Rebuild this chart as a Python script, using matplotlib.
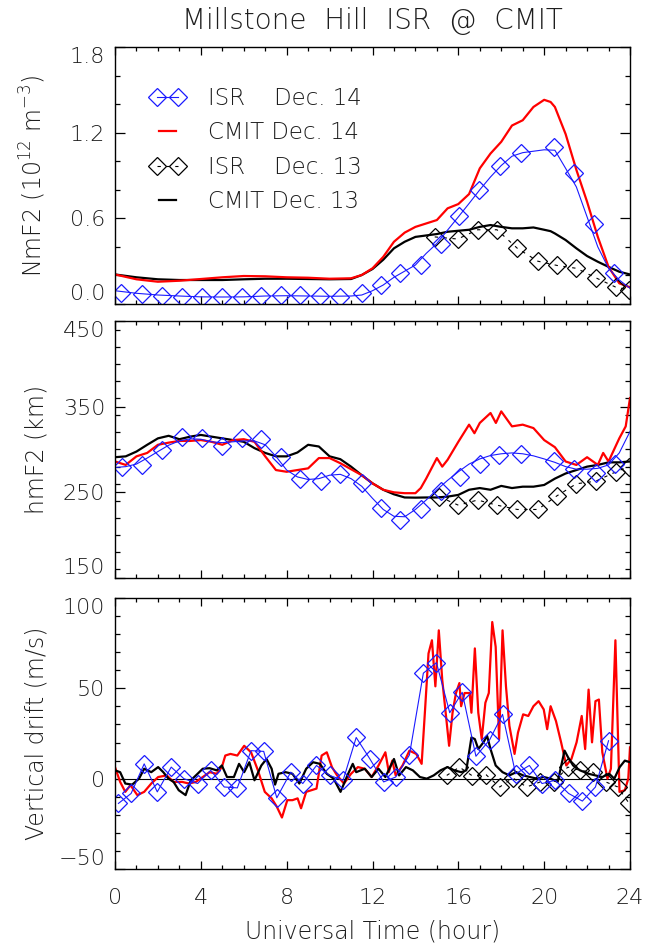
import matplotlib
matplotlib.use("Agg")
import matplotlib.pyplot as plt
from matplotlib.lines import Line2D
from matplotlib.legend_handler import HandlerBase
from matplotlib.ticker import FixedLocator, MultipleLocator, FuncFormatter

TXT = '#1e1e1e'
plt.rcParams['font.family'] = ['DejaVu Sans']
plt.rcParams['font.weight'] = 'light'
plt.rcParams['axes.labelweight'] = 'light'
plt.rcParams['text.color'] = TXT
plt.rcParams['axes.labelcolor'] = TXT
plt.rcParams['mathtext.default'] = 'regular'

# ---------------- NmF2 (10^12 m^-3) ----------------
nm_isr14_t = [0.27, 1.24, 2.17, 3.10, 4.04, 4.98, 5.91, 6.82, 7.74, 8.64, 9.55, 10.5,
              11.5, 12.4, 13.3, 14.25, 15.17, 16.05, 16.98, 17.94, 18.9, 20.46, 21.4,
              22.3, 23.24]
nm_isr14_v = [0.08, 0.068, 0.058, 0.05, 0.047, 0.049, 0.05, 0.056, 0.063, 0.06, 0.056, 0.05,
              0.075, 0.133, 0.215, 0.273, 0.42, 0.616, 0.80, 0.965, 1.06, 1.10, 0.92,
              0.557, 0.215]
nm_isrfit14_t = [0, 1, 2, 3, 4, 5, 6, 7, 8, 9, 10, 11, 11.5, 12, 12.5, 13, 13.5, 14, 14.5,
                 15, 15.5, 16, 16.5, 17, 17.5, 18, 18.5, 19, 19.5, 20, 20.5, 21, 21.5,
                 22, 22.5, 23, 23.5, 24]
nm_isrfit14_v = [0.093, 0.075, 0.063, 0.056, 0.05, 0.049, 0.05, 0.056, 0.058, 0.056, 0.054,
                 0.056, 0.063, 0.093, 0.133, 0.187, 0.23, 0.273, 0.354, 0.424, 0.518, 0.61,
                 0.704, 0.80, 0.89, 0.97, 1.035, 1.06, 1.07, 1.08, 1.077, 0.95, 0.82, 0.61,
                 0.40, 0.25, 0.168, 0.11]
nm_cmit_t = [0, 1, 2, 3, 4, 5, 6, 7, 8, 9, 10, 11, 11.5, 12, 12.5, 13, 13.5, 14, 14.5, 15,
             15.5, 16, 16.5, 17, 17.5, 18, 18.5, 19, 19.5, 20, 20.3, 20.5, 21, 21.5, 22,
             22.5, 23, 23.5, 24]
nm_cmit14_v = [0.207, 0.173, 0.156, 0.163, 0.175, 0.187, 0.196, 0.194, 0.187, 0.184, 0.177,
               0.18, 0.203, 0.25, 0.33, 0.436, 0.50, 0.54, 0.564, 0.588, 0.67, 0.70, 0.77,
               0.95, 1.054, 1.136, 1.25, 1.287, 1.38, 1.43, 1.415, 1.38, 1.19, 0.94, 0.716,
               0.47, 0.26, 0.145, 0.117]
nm_cmit13_v = [0.207, 0.187, 0.173, 0.168, 0.168, 0.168, 0.173, 0.177, 0.177, 0.175, 0.173,
               0.175, 0.203, 0.245, 0.31, 0.39, 0.436, 0.47, 0.48, 0.49, 0.506, 0.513, 0.52,
               0.54, 0.553, 0.54, 0.53, 0.53, 0.536, 0.52, 0.51, 0.494, 0.448, 0.39, 0.336,
               0.296, 0.26, 0.226, 0.207]
nm_isr13_t = [14.9, 15.97, 16.9, 17.8, 18.75, 19.7, 20.6, 21.5, 22.4, 23.35, 23.95]
nm_isr13_v = [0.47, 0.455, 0.52, 0.52, 0.39, 0.30, 0.27, 0.25, 0.184, 0.117, 0.10]

# ---------------- hmF2 (km) ----------------
hm_isr14_t = [0.32, 1.24, 2.17, 3.10, 4.04, 4.98, 5.91, 6.82, 7.74, 8.64, 9.58, 10.5, 11.5,
              12.4, 13.3, 14.25, 15.17, 16.1, 17.0, 17.9, 18.9, 20.46, 21.4, 22.4, 23.3]
hm_isr14_v = [279, 282, 299, 314.5, 313, 304, 313, 312, 291, 266, 263, 271, 260.5,
              232, 218, 230, 251, 268, 283, 293, 295, 287, 277, 272, 283]
hm_fit_t = [0, 0.5, 1, 1.5, 2, 2.5, 3, 3.5, 4, 4.5, 5, 5.5, 6, 6.5, 7, 7.5, 8, 8.5, 9, 9.5,
            10, 10.5, 11, 11.5, 12, 12.5, 13, 13.5, 14, 14.5, 15, 15.5, 16, 16.5, 17, 17.5,
            18, 18.5, 19, 19.5, 20, 20.5, 21, 21.5, 22, 22.5, 23, 23.5, 24]
hm_isrfit14_v = [279, 280, 283, 290, 297.6, 305, 310, 312.5, 312, 309, 308, 309, 310, 310,
                 305.5, 292, 276, 268, 265, 266, 270, 271, 266, 257, 243, 230, 222, 221.5,
                 230, 241, 253, 264, 274, 283, 289, 293, 295, 296, 295, 292.6, 289, 285,
                 280, 277, 277, 278, 282, 296, 321]
hm_cmit14_t = [0, 0.5, 1, 1.5, 2, 2.5, 3, 3.5, 4, 4.5, 5, 5.5, 6, 6.5, 7, 7.5, 8, 8.5, 9,
               9.5, 10, 10.5, 11, 11.5, 12, 12.5, 13, 13.5, 14, 14.25, 14.5, 15, 15.25,
               15.5, 16, 16.5, 16.75, 17, 17.5, 17.75, 18, 18.5, 19, 19.5, 20, 20.5, 21,
               21.5, 22, 22.5, 22.75, 23, 23.5, 23.8, 24]
hm_cmit14_v = [286, 282, 292, 296, 305.5, 308, 310, 310, 311, 309, 305.5, 311, 312, 309,
               292, 276, 274, 276, 278, 290, 290, 284, 277, 270, 260.5, 253, 250, 249, 249,
               255, 266, 290, 280, 288, 309, 329, 319, 331, 342.6, 331, 344.5, 327, 329,
               325, 311, 302.7, 286, 282, 291, 282, 296, 286, 313, 327, 360]
hm_cmit13_v = [291, 292, 297.6, 305.5, 313, 316, 312, 315, 317, 315, 313, 311, 309, 301.6,
               296, 292, 292, 296.5, 305.5, 303.5, 292, 288.7, 280, 270, 260.5, 253, 247.7,
               244, 243.8, 244, 244, 245, 247, 253, 255, 253, 257.5, 255, 256.6, 256.6,
               258.6, 266, 272, 276, 280, 282, 285, 285, 286]
hm_isr13_t = [15.1, 16.0, 16.9, 17.8, 18.75, 19.7, 20.6, 21.5, 22.4, 23.35, 23.95]
hm_isr13_v = [245, 235, 241, 235, 230, 230, 246, 260, 263, 274, 280]

# ---------------- Vertical drift (m/s) ----------------
vd_isr14_t = [0.16, 0.75, 1.36, 1.97, 2.62, 3.21, 3.85, 4.46, 5.09, 5.70, 6.34, 6.93, 7.54,
              8.19, 8.75, 9.39, 10.0, 10.63, 11.24, 11.88, 12.52, 13.08, 13.72, 14.37,
              14.98, 15.60, 16.18, 16.82, 17.46, 18.06, 18.67, 19.31, 19.90, 20.51, 21.14,
              21.78, 22.39, 23.0]
vd_isr14_v = [-13.7, -8.2, 8.2, -7.3, 6.4, 0.0, -2.7, 4.6, -4.6, -5.1, 15.5, 15.1, -10.6,
              3.6, -2.7, 7.3, 1.8, -0.9, 22.8, 10.9, -1.8, 0.9, 13.1, 58.4, 64.2, 36.5,
              47.8, 12.4, 21.5, 35.6, 2.7, 7.3, -2.7, -0.9, -8.2, -12.4, -4.6, 21.0]
vd_isr13_t = [15.46, 16.05, 16.66, 17.29, 17.93, 18.54, 19.18, 19.82, 20.45, 21.1, 21.67,
              22.26, 22.87, 23.43, 23.96]
vd_isr13_v = [1.8, 6.4, 1.5, 2.2, -4.6, 0.4, -4.6, -1.8, -2.0, 6.4, 4.6, 3.6, -1.8, -4.6,
              -13.7]
vd_cmit14_t = [0.00, 0.24, 0.48, 0.72, 1.04, 1.36, 1.69, 2.01, 2.41, 2.73, 3.13, 3.45, 3.77,
               4.09, 4.41, 4.74, 4.98, 5.14, 5.38, 5.70, 6.02, 6.34, 6.66, 6.98, 7.30, 7.54,
               7.78, 8.03, 8.27, 8.51, 8.67, 8.91, 9.15, 9.39, 9.63, 9.87, 10.11, 10.35,
               10.67, 11.00, 11.32, 11.64, 11.96, 12.28, 12.60, 12.76, 12.92, 13.08, 13.40,
               13.72, 14.04, 14.29, 14.45, 14.61, 14.77, 14.93, 15.09, 15.25, 15.41, 15.57,
               15.73, 15.89, 16.05, 16.13, 16.29, 16.53, 16.61, 16.77, 16.93, 17.09, 17.26,
               17.42, 17.58, 17.74, 17.90, 18.06, 18.22, 18.38, 18.62, 18.78, 19.02, 19.26,
               19.50, 19.74, 19.98, 20.14, 20.30, 20.55, 20.79, 21.03, 21.27, 21.51, 21.75,
               21.91, 22.07, 22.23, 22.39, 22.55, 22.71, 22.95, 23.11, 23.32, 23.51, 23.76,
               23.92, 24.00]
vd_cmit14_v = [6.4, -1.8, -7.3, -3.6, -9.1, -7.3, -2.7, 0.9, 1.8, -1.8, -1.8, -2.7, -1.8,
               0.9, 3.6, 2.7, 6.4, 12.8, 13.7, 12.8, 18.2, 14.6, 4.6, -7.3, -10.9, -15.5,
               -21.5, -11.9, -11.9, -10.9, -16.4, -7.3, -6.4, -5.5, 12.8, 14.6, 6.4, 1.8,
               -2.7, 2.7, 6.4, 5.5, 0.9, 7.3, 14.6, 3.6, 10.0, 1.8, 7.3, 15.5, 13.7, 8.2,
               38.3, 69.3, 76.6, 51.1, 82.1, 54.7, 36.5, 18.2, 36.5, 47.4, 52.9, 40.1, 47.4,
               47.4, 36.5, 72.1, 36.5, 21.9, 42.0, 47.4, 86.7, 73.0, 21.9, 82.1, 51.1, 29.2,
               13.7, 25.5, 35.6, 34.7, 40.1, 42.9, 38.3, 27.4, 40.1, 31.9, 20.1, 7.3, 10.9,
               20.1, 34.7, 16.4, 49.3, 20.1, 42.9, 43.8, 14.6, 0.0, 5.5, 76.6, -7.3, -6.4,
               0.0, 17.3]
vd_cmit13_t = [0.00, 0.24, 0.48, 0.80, 1.12, 1.36, 1.69, 2.01, 2.25, 2.49, 2.73, 2.97, 3.29,
               3.53, 3.77, 4.09, 4.41, 4.74, 4.98, 5.22, 5.54, 5.78, 6.02, 6.26, 6.50, 6.82,
               7.06, 7.30, 7.46, 7.62, 7.95, 8.27, 8.59, 8.91, 9.23, 9.55, 9.87, 10.19,
               10.51, 10.83, 11.08, 11.24, 11.64, 11.96, 12.28, 12.60, 13.00, 13.24, 13.56,
               13.88, 14.21, 14.53, 14.85, 15.17, 15.49, 15.81, 16.13, 16.37, 16.61, 16.77,
               16.93, 17.17, 17.34, 17.50, 17.74, 18.06, 18.38, 18.70, 19.02, 19.34, 19.66,
               19.98, 20.30, 20.63, 20.95, 21.11, 21.35, 21.67, 22.07, 22.39, 22.71, 23.03,
               23.27, 23.52, 23.76, 24.00]
vd_cmit13_v = [4.6, 3.6, -2.7, -3.3, 0.0, 5.5, 3.6, 6.4, 3.6, 0.0, -1.8, -6.4, -9.1, -0.9,
               1.8, 5.5, 5.8, 4.6, 7.3, 0.9, 0.9, 8.2, 3.6, 9.1, -0.9, 7.3, 10.9, 5.5, -3.3,
               2.7, 3.6, 2.7, -2.7, 5.5, 9.1, 8.2, 2.7, 0.0, -7.3, 1.8, 8.2, 3.6, 5.5, 0.9,
               5.5, 0.9, 10.9, 1.8, 6.4, 4.6, 0.9, 0.0, 1.8, 4.6, 6.4, 4.6, 3.6, 4.6, 22.8,
               21.9, 16.4, 20.1, 23.7, 16.4, 7.3, 3.6, 1.8, 3.6, 1.8, 0.9, 0.0, 0.9, 0.0,
               -1.8, 15.5, 11.9, 7.3, 4.6, 2.7, 1.8, 0.9, 2.7, 0.0, 6.4, 10.0, 9.1]

# Axis labels and tick values
title = "Millstone  Hill  ISR  @  CMIT"
xlabel = "Universal Time (hour)"
ylabels = ["NmF2 (10$^{12}$ m$^{-3}$)", "hmF2 (km)", "Vertical drift (m/s)"]
legend_labels = ["ISR    Dec. 14", "CMIT Dec. 14", "ISR    Dec. 13", "CMIT Dec. 13"]
x_ticks = [0, 4, 8, 12, 16, 20, 24]
nm_ticks = [0.0, 0.6, 1.2, 1.8]
hm_ticks = [150, 250, 350, 450]
vd_ticks = [-50, 0, 50, 100]

BLUE = '#1a1aff'
RED = '#ff0000'
FS_TICK = 16
FS_LAB = 17
FS_LEG = 16.5
FS_TITLE = 20
PX = 0.72  # points per pixel at 100 dpi

fig = plt.figure(figsize=(6.45, 9.46), dpi=100)
W, H = 645.0, 946.0
L, AW = 115 / W, 515 / W
ax1 = fig.add_axes([L, 1 - 304 / H, AW, 257 / H])
ax2 = fig.add_axes([L, 1 - 578 / H, AW, 257 / H])
ax3 = fig.add_axes([L, 1 - 869 / H, AW, 271 / H])


def style(ax, ticks, minor, fmt, show_x):
    ax.set_xlim(0, 24)
    ax.set_ylim(ticks[0], ticks[-1])
    ax.xaxis.set_major_locator(FixedLocator(x_ticks))
    ax.xaxis.set_minor_locator(MultipleLocator(1))
    ax.yaxis.set_major_locator(FixedLocator(ticks))
    ax.yaxis.set_minor_locator(MultipleLocator(minor))
    ax.yaxis.set_major_formatter(FuncFormatter(fmt))
    ax.tick_params(which='both', direction='in', top=True, right=True,
                   labelsize=FS_TICK, color='black', labelcolor=TXT)
    ax.tick_params(axis='x', which='major', length=8 * PX, width=0.9, pad=14)
    ax.tick_params(axis='x', which='minor', length=4 * PX, width=0.9)
    ax.tick_params(axis='y', which='major', length=10 * PX, width=0.9, pad=7)
    ax.tick_params(axis='y', which='minor', length=5 * PX, width=0.9)
    ax.tick_params(labelbottom=show_x)
    for s in ax.spines.values():
        s.set_linewidth(1.0)
    majors = ax.yaxis.get_major_ticks()
    majors[0].label1.set_verticalalignment('bottom')
    majors[-1].label1.set_verticalalignment('top')


style(ax1, nm_ticks, 0.2, lambda v, p: f"{v:.1f}", False)
style(ax2, hm_ticks, 20, lambda v, p: f"{v:.0f}", False)
style(ax3, vd_ticks, 10, lambda v, p: f"{v:.0f}".replace('-', '\u2212'), True)

mk = dict(marker='D', markersize=9.2, markerfacecolor='none', markeredgewidth=0.9)

# NmF2 panel
ax1.plot(nm_cmit_t, nm_cmit13_v, color='black', lw=1.6)
ax1.plot(nm_cmit_t, nm_cmit14_v, color=RED, lw=1.6)
ax1.plot(nm_isr13_t, nm_isr13_v, color='black', lw=0.8, ls=(0, (3, 5)),
         markeredgecolor='black', **mk)
ax1.plot(nm_isrfit14_t, nm_isrfit14_v, color=BLUE, lw=0.8)
ax1.plot(nm_isr14_t, nm_isr14_v, ls='none', markeredgecolor=BLUE, **mk)

# hmF2 panel
ax2.plot(hm_fit_t, hm_cmit13_v, color='black', lw=1.6)
ax2.plot(hm_cmit14_t, hm_cmit14_v, color=RED, lw=1.6)
ax2.plot(hm_isr13_t, hm_isr13_v, color='black', lw=0.8, ls=(0, (3, 5)),
         markeredgecolor='black', **mk)
ax2.plot(hm_fit_t, hm_isrfit14_v, color=BLUE, lw=0.8)
ax2.plot(hm_isr14_t, hm_isr14_v, ls='none', markeredgecolor=BLUE, **mk)

# Vertical drift panel
ax3.axhline(0, color='black', lw=0.8)
ax3.plot(vd_cmit14_t, vd_cmit14_v, color=RED, lw=1.6)
ax3.plot(vd_cmit13_t, vd_cmit13_v, color='black', lw=1.6)
ax3.plot(vd_isr13_t, vd_isr13_v, color='black', lw=0.8, ls=(0, (3, 5)),
         markeredgecolor='black', **mk)
ax3.plot(vd_isr14_t, vd_isr14_v, color=BLUE, lw=0.8, markeredgecolor=BLUE, **mk)

for ax, lab in zip((ax1, ax2, ax3), ylabels):
    ax.set_ylabel(lab, fontsize=FS_LAB)
    ax.yaxis.set_label_coords(-0.13, 0.5)

ax3.set_xlabel(xlabel, fontsize=FS_LAB, labelpad=8)
fig.text(0.5 * (115 + 630) / W, 1 - 21 / H, title, fontsize=FS_TITLE,
         ha='center', va='center')


class ShortLine(HandlerBase):
    def create_artists(self, legend, orig_handle, xdescent, ydescent, width, height,
                       fontsize, trans):
        y = height / 2 - ydescent
        x0 = -xdescent + 0.25 * width
        x1 = -xdescent + 0.75 * width
        line = Line2D([x0, x1], [y, y], color=orig_handle.get_color(),
                      lw=orig_handle.get_linewidth(), transform=trans)
        return [line]


h_isr14 = Line2D([], [], color=BLUE, lw=0.8, markeredgecolor=BLUE, **mk)
h_cmit14 = Line2D([], [], color=RED, lw=1.6)
h_isr13 = Line2D([], [], color='black', lw=0.8, ls=(0, (3, 5)), markeredgecolor='black', **mk)
h_cmit13 = Line2D([], [], color='black', lw=1.6)
ax1.legend([h_isr14, h_cmit14, h_isr13, h_cmit13], legend_labels,
           handler_map={h_cmit14: ShortLine(), h_cmit13: ShortLine()},
           loc='upper left', bbox_to_anchor=(0.068, 0.845), frameon=False,
           numpoints=2, fontsize=FS_LEG, handlelength=1.5, handletextpad=1.05,
           labelspacing=0.5, borderpad=0, borderaxespad=0)

fig.savefig('out.png', dpi=100)
